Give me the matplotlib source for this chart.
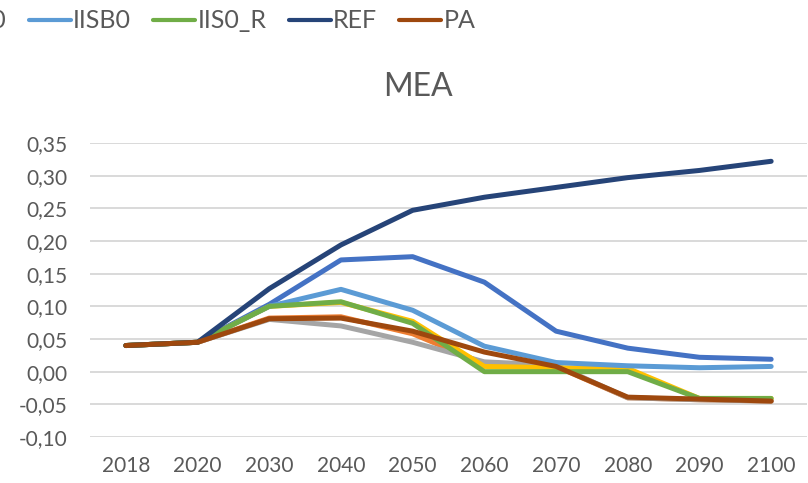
import matplotlib.pyplot as plt
from matplotlib.ticker import FuncFormatter

years = ["2018", "2020", "2030", "2040", "2050", "2060", "2070", "2080", "2090", "2100"]

# series in the workbook's order (later ones drawn on top)
mid_blue = [0.040, 0.045, 0.103, 0.171, 0.176, 0.137, 0.062, 0.036, 0.022, 0.019]
orange = [0.040, 0.045, 0.082, 0.084, 0.058, 0.012, 0.008, -0.040, -0.043, -0.045]
gray = [0.040, 0.045, 0.080, 0.070, 0.045, 0.015, 0.010, -0.040, -0.043, -0.045]
iisa0 = [0.040, 0.045, 0.100, 0.106, 0.077, 0.008, 0.006, 0.005, -0.041, -0.041]
iisb0 = [0.040, 0.045, 0.100, 0.126, 0.094, 0.039, 0.014, 0.009, 0.006, 0.008]
iis0_r = [0.040, 0.045, 0.100, 0.107, 0.074, 0.000, 0.000, 0.000, -0.041, -0.041]
ref = [0.040, 0.045, 0.127, 0.194, 0.247, 0.267, 0.282, 0.297, 0.308, 0.322]
pa = [0.040, 0.045, 0.081, 0.082, 0.062, 0.030, 0.008, -0.039, -0.042, -0.045]

text_col = "#595959"
plt.rcParams["font.family"] = ["Lato", "DejaVu Sans"]

W, H = 808, 483
fig = plt.figure(figsize=(W / 100, H / 100), dpi=100)
ax = fig.add_axes([90 / W, 1 - 437 / H, 717 / W, (437 - 143) / H])

x = range(len(years))
lw = 3.6
ax.plot(x, mid_blue, color="#4472C4", lw=lw, solid_capstyle="round")
ax.plot(x, orange, color="#ED7D31", lw=lw, solid_capstyle="round")
ax.plot(x, gray, color="#A5A5A5", lw=lw, solid_capstyle="round")
ax.plot(x, iisa0, color="#FFC000", lw=lw, solid_capstyle="round", label="IISA0")
ax.plot(x, iisb0, color="#5B9BD5", lw=lw, solid_capstyle="round", label="IISB0")
ax.plot(x, iis0_r, color="#70AD47", lw=lw, solid_capstyle="round", label="IIS0_R")
ax.plot(x, ref, color="#264478", lw=lw, solid_capstyle="round", label="REF")
ax.plot(x, pa, color="#9E480E", lw=lw, solid_capstyle="round", label="PA")

ax.set_xlim(-0.5, len(years) - 0.5)
ax.set_ylim(-0.10, 0.35)
ax.set_yticks([-0.10 + 0.05 * i for i in range(10)])
ax.yaxis.set_major_formatter(FuncFormatter(lambda v, p: f"{v:.2f}".replace(".", ",")))
ax.set_xticks(list(x))
ax.set_xticklabels(years)
ax.tick_params(length=0, labelsize=15, colors=text_col)
ax.tick_params(axis="y", pad=16)
ax.tick_params(axis="x", pad=14)
ax.grid(axis="y", color="#d9d9d9", lw=1.4)
ax.set_axisbelow(True)
for s in ax.spines.values():
    s.set_visible(False)

fig.text(418 / W, 1 - 87 / H, "MEA", fontsize=23, color=text_col, ha="center", va="center")

# legend runs off the left edge like in the cropped original
leg_kw = dict(loc="center left", ncol=5, frameon=False, fontsize=18, labelcolor=text_col,
              handlelength=1.68, handletextpad=0.1, columnspacing=0.88,
              borderpad=0, borderaxespad=0)
leg = fig.legend(bbox_to_anchor=(0, 1 - 21 / H), **leg_kw)
for h in leg.get_lines():
    h.set_linewidth(3)

# shift it so that the "IISB0" label starts where it does in the original
fig.canvas.draw()
x_b0 = leg.get_texts()[1].get_window_extent().x0
leg.remove()
leg = fig.legend(bbox_to_anchor=((73 - x_b0) / W, 1 - 21 / H), **leg_kw)
for h in leg.get_lines():
    h.set_linewidth(3)

fig.savefig("out.png", dpi=100)
